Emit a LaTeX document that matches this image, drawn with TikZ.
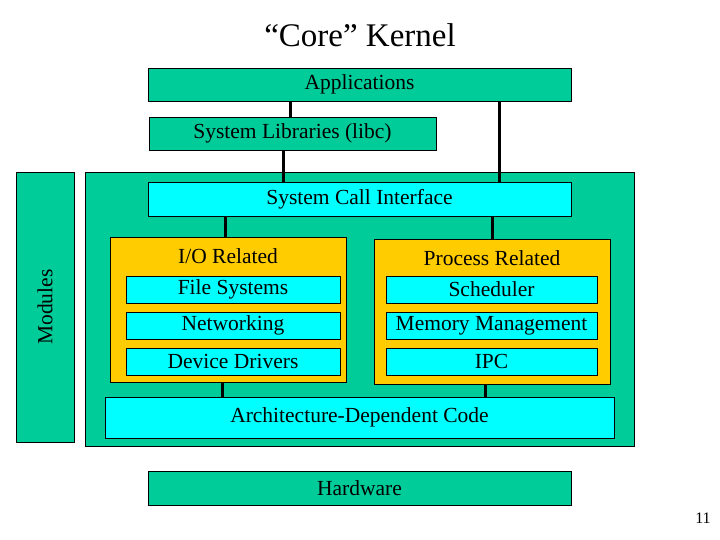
\documentclass[tikz,border=0pt]{standalone}
\usepackage{fontspec}
\setmainfont{Liberation Serif}
\usetikzlibrary{positioning}
\definecolor{kgreen}{RGB}{0,204,153}
\definecolor{kgold}{RGB}{255,204,0}
\definecolor{kcyan}{RGB}{0,255,255}
\begin{document}
\begin{tikzpicture}[x=1pt,y=-1pt]

\tikzstyle{layer}=[draw=black, fill=kgreen, inner sep=0pt, font=\fontsize{21.5}{23}\selectfont]
\tikzstyle{sub}=[draw=black, fill=kcyan, inner sep=0pt, font=\fontsize{21.5}{23}\selectfont]
\tikzstyle{group}=[draw=black, fill=kgold, inner sep=0pt]
\tikzstyle{connect}=[line width=3pt]

\useasboundingbox (0,0) rectangle (720,540);

\node[font=\fontsize{33}{36}\selectfont] (title) at (360,35) {“Core” Kernel};

\node[layer, minimum width=423, minimum height=33] (apps) at (359.5,84.5) {Applications};
\node[layer, minimum width=287, minimum height=33] (libc) at (292.5,133.5) {System Libraries (libc)};

\node[layer, minimum width=549, minimum height=274] (kernel) at (359.5,309) {};
\node[layer, minimum width=58, minimum height=270] (modules) at (45,307) {};
\node[rotate=90, font=\fontsize{21.5}{23}\selectfont] (modtext) at (45,307) {Modules};

\node[sub, minimum width=423, minimum height=34] (sci) at (359.5,199) {System Call Interface};

\node[group, minimum width=236, minimum height=145] (io) at (228,309.5) {};
\node[group, minimum width=236, minimum height=145] (proc) at (492,311.5) {};
\node[font=\fontsize{21.5}{23}\selectfont] (iotext) at (228,256) {I/O Related};
\node[font=\fontsize{21.5}{23}\selectfont] (proctext) at (492,258) {Process Related};

\node[sub, minimum width=214, minimum height=27] (fs) at (233,289.5) {File Systems};
\node[sub, minimum width=214, minimum height=27] (net) at (233,325.5) {Networking};
\node[sub, minimum width=214, minimum height=27] (dev) at (233,361.5) {Device Drivers};
\node[sub, minimum width=211, minimum height=27] (sched) at (491.5,289.5) {Scheduler};
\node[sub, minimum width=211, minimum height=27] (mem) at (491.5,325.5) {Memory Management};
\node[sub, minimum width=211, minimum height=27] (ipc) at (491.5,361.5) {IPC};

\node[sub, minimum width=509, minimum height=41] (arch) at (359.5,417.5) {Architecture-Dependent Code};

\node[layer, minimum width=423, minimum height=34] (hw) at (359.5,488) {Hardware};

\draw[connect] (apps.south -| 290,0) -- (libc.north -| 290,0);
\draw[connect] (libc.south -| 283,0) -- (sci.north -| 283,0);
\draw[connect] (apps.south -| 499,0) -- (sci.north -| 499,0);
\draw[connect] (sci.south -| 225,0) -- (io.north -| 225,0);
\draw[connect] (sci.south -| 492,0) -- (proc.north -| 492,0);
\draw[connect] (io.south -| 222,0) -- (arch.north -| 222,0);
\draw[connect] (proc.south -| 485,0) -- (arch.north -| 485,0);

\node[font=\fontsize{16}{18}\selectfont] (page) at (703,518) {11};

\end{tikzpicture}
\end{document}
